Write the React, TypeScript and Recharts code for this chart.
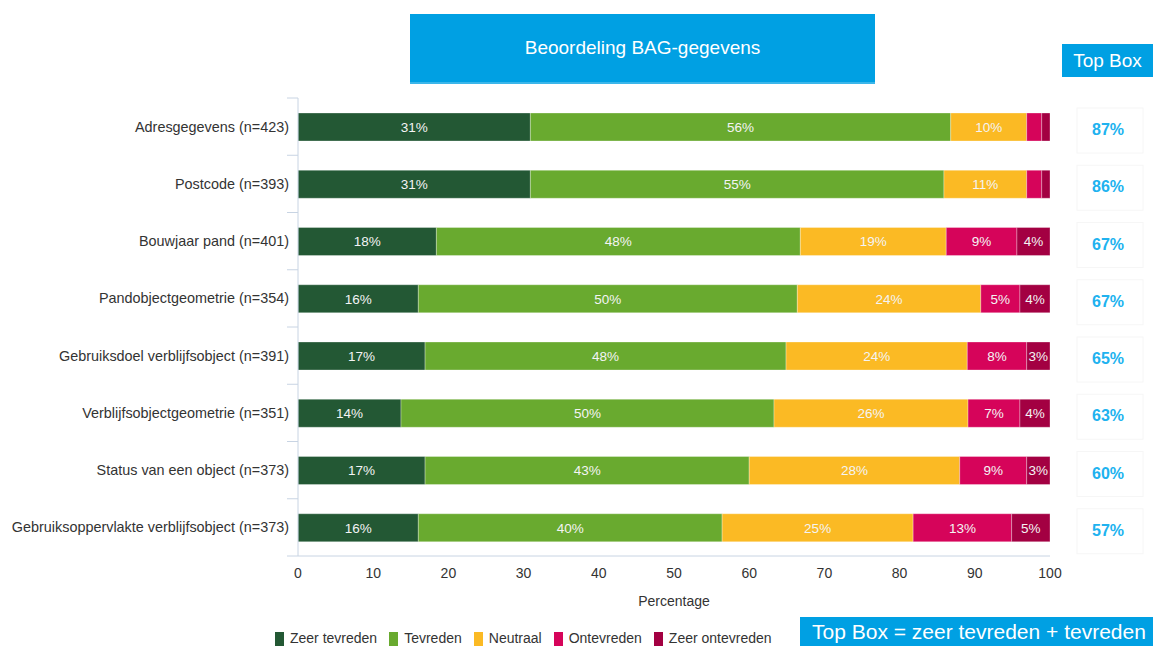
import React from 'react';
import { BarChart, Bar, XAxis, YAxis, LabelList } from 'recharts';

const categories = [
  'Adresgegevens (n=423)',
  'Postcode (n=393)',
  'Bouwjaar pand (n=401)',
  'Pandobjectgeometrie (n=354)',
  'Gebruiksdoel verblijfsobject (n=391)',
  'Verblijfsobjectgeometrie (n=351)',
  'Status van een object (n=373)',
  'Gebruiksoppervlakte verblijfsobject (n=373)',
];

const zeerTevreden = [30.9, 30.9, 18.4, 16.0, 16.9, 13.7, 16.9, 16.0];
const tevreden = [55.9, 55.0, 48.4, 50.4, 48.0, 49.6, 43.1, 40.4];
const neutraal = [10.1, 11.0, 19.4, 24.4, 24.1, 25.8, 28.0, 25.4];
const ontevreden = [2.0, 2.0, 9.4, 5.2, 7.9, 6.9, 8.9, 13.1];
const zeerOntevreden = [1.1, 1.1, 4.4, 4.0, 3.1, 4.0, 3.1, 5.1];
const topBox = [87, 86, 67, 67, 65, 63, 60, 57];

const xTicks = [0, 10, 20, 30, 40, 50, 60, 70, 80, 90, 100];

const series = [
  { key: 'zt', name: 'Zeer tevreden', color: '#235834' },
  { key: 't', name: 'Tevreden', color: '#69aa2f' },
  { key: 'n', name: 'Neutraal', color: '#fbba24' },
  { key: 'o', name: 'Ontevreden', color: '#d6045a' },
  { key: 'zo', name: 'Zeer ontevreden', color: '#a30042' },
];

const data = categories.map((name, i) => ({
  name,
  zt: zeerTevreden[i],
  t: tevreden[i],
  n: neutraal[i],
  o: ontevreden[i],
  zo: zeerOntevreden[i],
  topBox: topBox[i],
}));

const BLUE = '#00a0e3';
const AXIS = '#c8d4e3';
const SANS = '"Liberation Sans", Arial, sans-serif';

const CategoryTick = (props: any) => {
  const { x, y, payload, index } = props;
  const half = payload && payload.offset ? payload.offset : 28.6;
  return (
    <g>
      <line x1={x - 11} x2={x} y1={y - half} y2={y - half} stroke={AXIS} />
      {index === categories.length - 1 && (
        <line x1={x - 11} x2={x} y1={y + half} y2={y + half} stroke={AXIS} />
      )}
      <text
        x={x - 9}
        y={y}
        dy={5}
        textAnchor="end"
        fontSize={14.4}
        fontFamily={SANS}
        fill="#333"
      >
        {payload.value}
      </text>
    </g>
  );
};

const pctLabel = (v: any) => (v < 2.5 ? '' : `${Math.round(v)}%`);

const TopBoxLabel = (props: any) => {
  const { x, y, width, height, value } = props;
  const cx = x + width + 58;
  const cy = y + height / 2;
  return (
    <g>
      <rect x={cx - 31} y={cy - 19} width={66} height={45} fill="none" stroke="#f6f6f6" />
      <text
        x={cx}
        y={cy}
        dy={8}
        textAnchor="middle"
        fontSize={16}
        fontWeight="bold"
        fontFamily={SANS}
        fill="#20b2ef"
      >
        {`${value}%`}
      </text>
    </g>
  );
};

export default function App() {
  return (
    <div
      style={{
        position: 'absolute',
        left: 0,
        top: 0,
        width: 1153,
        height: 646,
        background: '#fff',
        overflow: 'hidden',
        fontFamily: SANS,
      }}
    >
      <div
        style={{
          position: 'absolute',
          left: 410,
          top: 14,
          width: 465,
          height: 70,
          background: BLUE,
          borderBottom: '2px solid #3bb6ea',
          boxSizing: 'border-box',
          color: '#fff',
          fontSize: 19,
          display: 'flex',
          alignItems: 'center',
          justifyContent: 'center',
        }}
      >
        Beoordeling BAG-gegevens
      </div>
      <div
        style={{
          position: 'absolute',
          left: 1062,
          top: 44,
          width: 91,
          height: 33,
          background: BLUE,
          color: '#fff',
          fontSize: 19,
          display: 'flex',
          alignItems: 'center',
          justifyContent: 'center',
        }}
      >
        Top Box
      </div>

      <div style={{ position: 'absolute', left: 0, top: 0 }}>
        <BarChart
          width={1153}
          height={646}
          data={data}
          layout="vertical"
          margin={{ top: 98, right: 103, bottom: 40, left: 8 }}
        >
          <XAxis
            type="number"
            domain={[0, 100]}
            ticks={xTicks}
            allowDataOverflow
            axisLine={{ stroke: AXIS }}
            tickLine={false}
            tickMargin={6}
            height={50}
            tick={{ fontSize: 14, fill: '#333', fontFamily: SANS }}
            label={{
              value: 'Percentage',
              position: 'insideBottom',
              offset: 0,
              fontSize: 14,
              fill: '#333',
              fontFamily: SANS,
            }}
          />
          <YAxis
            type="category"
            dataKey="name"
            width={290}
            interval={0}
            axisLine={{ stroke: AXIS }}
            tickLine={false}
            tickSize={0}
            tickMargin={0}
            tick={<CategoryTick />}
          />
          {series.map((s, i) => (
            <Bar
              key={s.key}
              dataKey={s.key}
              name={s.name}
              stackId="a"
              fill={s.color}
              stroke="#ffffff"
              strokeOpacity={0.5}
              strokeWidth={0.6}
              barSize={28}
              isAnimationActive={false}
            >
              <LabelList
                dataKey={s.key}
                position="center"
                formatter={pctLabel}
                fill="#f4f4f4"
                fontSize={13.5}
                fontFamily={SANS}
              />
              {i === series.length - 1 && (
                <LabelList dataKey="topBox" content={<TopBoxLabel />} />
              )}
            </Bar>
          ))}
        </BarChart>
      </div>

      <div
        style={{
          position: 'absolute',
          left: 275,
          top: 631,
          display: 'flex',
          alignItems: 'center',
          fontFamily: SANS,
          fontSize: 14,
          color: '#333',
          lineHeight: '15px',
        }}
      >
        {series.map((s) => (
          <div key={s.key} style={{ display: 'flex', alignItems: 'center', marginRight: 12 }}>
            <span
              style={{
                display: 'inline-block',
                width: 9,
                height: 14,
                background: s.color,
                marginRight: 6,
              }}
            />
            {s.name}
          </div>
        ))}
      </div>

      <div
        style={{
          position: 'absolute',
          left: 800,
          top: 617,
          width: 353,
          height: 29,
          background: BLUE,
          color: '#fff',
          fontFamily: SANS,
          fontSize: 21,
          display: 'flex',
          alignItems: 'center',
          paddingLeft: 12,
          boxSizing: 'border-box',
          whiteSpace: 'nowrap',
        }}
      >
        Top Box = zeer tevreden + tevreden
      </div>
    </div>
  );
}
